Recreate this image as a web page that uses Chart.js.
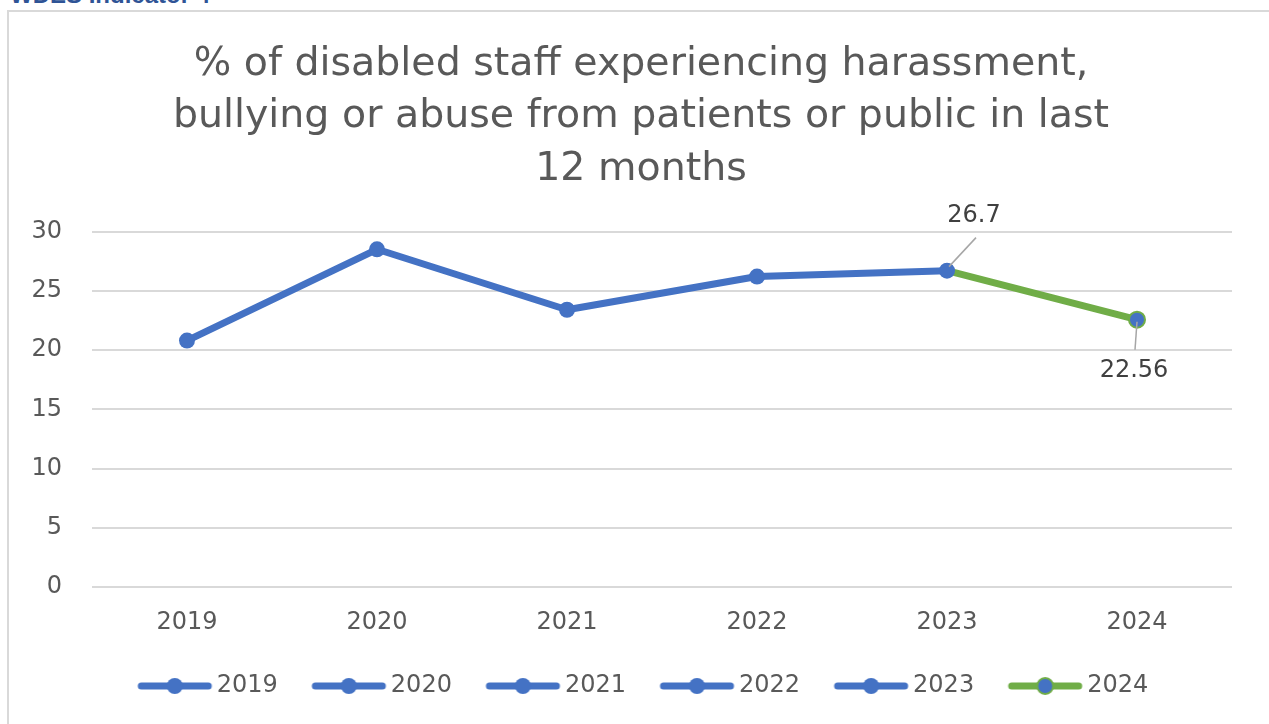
<!DOCTYPE html>
<html>
<head>
<meta charset="utf-8">
<script src="https://cdn.jsdelivr.net/npm/chart.js@4.4.1/dist/chart.umd.min.js"></script>
<style>
    html, body {
        margin: 0;
        padding: 0;
        background: #ffffff;
        overflow: hidden;
        width: 1269px;
        height: 724px;
    }
    .heading {
        position: absolute;
        left: 10px;
        top: -17px;
        font: bold 24px "Liberation Sans", Arial, sans-serif;
        line-height: 24px;
        color: #2f5496;
        white-space: nowrap;
    }
    .frame {
        position: absolute;
        left: 7px;
        top: 10px;
        width: 1320px;
        height: 800px;
        border: 2px solid #d9d9d9;
    }
    .chart-box {
        position: absolute;
        left: 0;
        top: 0;
        width: 1269px;
        height: 724px;
    }
</style>
</head>
<body>
<div class="heading">WDES Indicator 4</div>
<div class="frame"></div>
<div class="chart-box">
    <canvas id="harassmentChart" width="1269" height="724"></canvas>
</div>
<script>
// Survey years and percentages
const years = ['2019', '2020', '2021', '2022', '2023', '2024'];
const percentages = [20.8, 28.5, 23.4, 26.2, 26.7, 22.56];
const yTicks = [0, 5, 10, 15, 20, 25, 30];
const titleLines = [
    '% of disabled staff experiencing harassment,',
    'bullying or abuse from patients or public in last',
    '12 months'
];
// points that get a value callout
const labelledPoints = [4, 5];

const BLUE = '#4472c4';
const GREEN = '#70ad47';
const TEXT = '#595959';
const FONT = '"DejaVu Sans", "Open Sans", sans-serif';

// legend marker: a thick line with a dot in the middle.
// the canvas is wider than the legend box so the marker sits close to its text
function makeMarker(lineColor, dotColor, ringColor) {
    const c = document.createElement('canvas');
    c.width = 124;
    c.height = 20;
    const g = c.getContext('2d');
    g.strokeStyle = lineColor;
    g.lineWidth = 7;
    g.lineCap = 'round';
    g.beginPath();
    g.moveTo(41, 10);
    g.lineTo(108, 10);
    g.stroke();
    g.beginPath();
    g.arc(74.5, 10, 8, 0, Math.PI * 2);
    g.fillStyle = dotColor;
    g.fill();
    if (ringColor) {
        g.lineWidth = 2;
        g.strokeStyle = ringColor;
        g.stroke();
    }
    return c;
}

function colourFor(i) {
    return i === years.length - 1 ? GREEN : BLUE;
}

// title and legend are centred on the outer frame, not the plot
const centreOnFrame = {
    id: 'centreOnFrame',
    afterLayout(chart) {
        chart.titleBlock.left += 25;
        chart.titleBlock.right += 25;
        chart.legend.left += 18;
        chart.legend.right += 18;
    }
};

// value callouts with a short grey leader line
const calloutPlugin = {
    id: 'callouts',
    afterDatasetsDraw(chart) {
        const ctx = chart.ctx;
        const meta = chart.getDatasetMeta(0);
        ctx.save();
        ctx.font = '24px ' + FONT;
        ctx.fillStyle = '#404040';
        ctx.textAlign = 'center';
        ctx.textBaseline = 'middle';
        ctx.strokeStyle = '#a6a6a6';
        ctx.lineWidth = 1.5;
        labelledPoints.forEach(i => {
            const p = meta.data[i];
            const above = i === 4;
            const lx = above ? p.x + 27 : p.x - 3;
            const ly = above ? p.y - 55 : p.y + 51;
            ctx.beginPath();
            if (above) {
                ctx.moveTo(p.x + 2, p.y - 4);
                ctx.lineTo(p.x + 29, p.y - 33);
            } else {
                ctx.moveTo(p.x, p.y + 2);
                ctx.lineTo(p.x - 2, p.y + 30);
            }
            ctx.stroke();
            ctx.fillText(String(percentages[i]), lx, ly);
        });
        ctx.restore();
    }
};

const ctx = document.getElementById('harassmentChart').getContext('2d');
const chart = new Chart(ctx, {
    type: 'line',
    data: {
        labels: years,
        datasets: [{
            data: percentages,
            borderColor: BLUE,
            borderWidth: 7,
            borderCapStyle: 'round',
            borderJoinStyle: 'round',
            segment: {
                borderColor: c => colourFor(c.p1DataIndex)
            },
            pointRadius: 8,
            pointHoverRadius: 8,
            pointBorderWidth: years.map((y, i) => i === years.length - 1 ? 2 : 0),
            pointBackgroundColor: BLUE,
            pointBorderColor: years.map((y, i) => colourFor(i)),
            tension: 0
        }]
    },
    options: {
        responsive: false,
        animation: false,
        layout: {
            padding: { left: 0, right: 37, top: 0, bottom: 16 }
        },
        scales: {
            x: {
                offset: true,
                grid: { display: false, drawTicks: false },
                border: { display: false },
                ticks: {
                    color: TEXT,
                    padding: 21,
                    font: { family: FONT, size: 24 }
                }
            },
            y: {
                min: 0,
                max: 30,
                afterFit(scale) { scale.width = 92; },
                afterBuildTicks(scale) {
                    scale.ticks = yTicks.map(v => ({ value: v }));
                },
                grid: { color: '#d9d9d9', lineWidth: 2, drawTicks: false },
                border: { display: false },
                ticks: {
                    color: TEXT,
                    padding: 30,
                    font: { family: FONT, size: 24 }
                }
            }
        },
        plugins: {
            title: {
                display: true,
                text: titleLines,
                color: TEXT,
                font: { family: FONT, size: 39.5, weight: 'normal', lineHeight: '52.5px' },
                padding: { top: 38, bottom: 36 }
            },
            legend: {
                position: 'bottom',
                labels: {
                    color: TEXT,
                    font: { family: FONT, size: 24 },
                    usePointStyle: true,
                    pointStyleWidth: 85,
                    padding: 16,
                    generateLabels() {
                        return years.map((y, i) => ({
                            text: y,
                            fontColor: TEXT,
                            pointStyle: i === years.length - 1
                                ? makeMarker(GREEN, BLUE, GREEN)
                                : makeMarker(BLUE, BLUE, null),
                            lineWidth: 0,
                            strokeStyle: 'transparent',
                            fillStyle: 'transparent',
                            hidden: false,
                            datasetIndex: 0
                        }));
                    }
                }
            },
            tooltip: { enabled: false }
        }
    },
    plugins: [centreOnFrame, calloutPlugin]
});
</script>
</body>
</html>
